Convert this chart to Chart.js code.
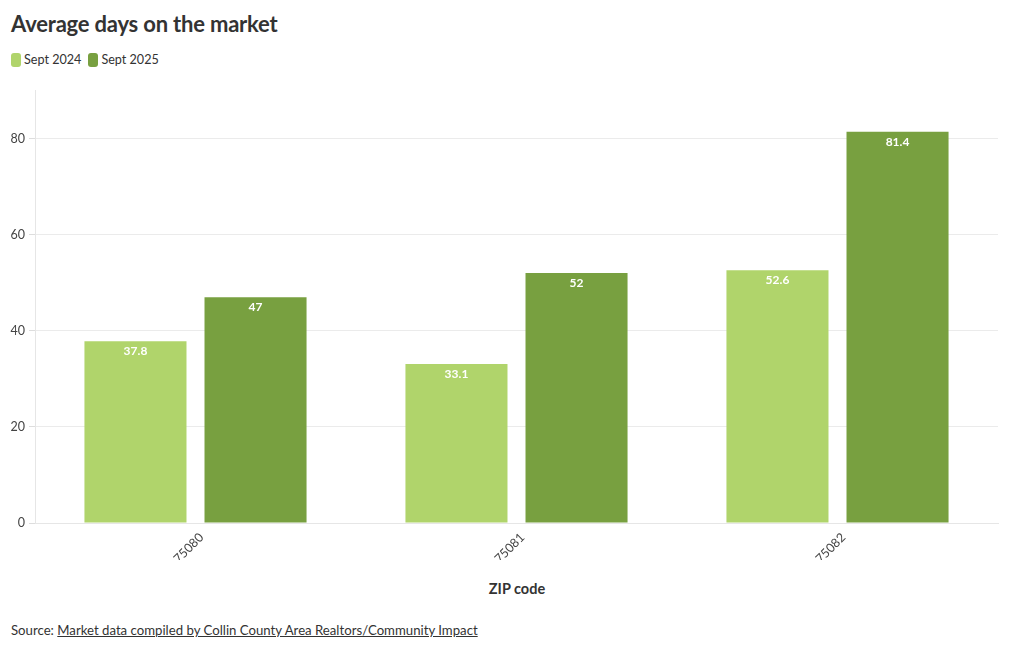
<!DOCTYPE html>
<html>
<head>
<meta charset="utf-8">
<script src="https://cdn.jsdelivr.net/npm/chart.js@4"></script>
<style>
  body { margin: 0; background: #fff; font-family: Lato, "Noto Sans", sans-serif; color: #333; }
  #wrap { position: relative; width: 1020px; height: 650px; }
  h1 { position: absolute; left: 11px; top: 10px; margin: 0; font-size: 22px; font-weight: 700; color: #333; letter-spacing: -0.2px; }
  #legend { position: absolute; left: 11px; top: 52px; font-size: 12.6px; display: flex; gap: 7px; }
  #legend span { display: inline-flex; align-items: center; }
  #legend i { display: inline-block; width: 10px; height: 14px; border-radius: 3px; margin-right: 3px; }
  #xtitle { position: absolute; left: 0; width: 1034px; top: 580px; text-align: center; font-size: 14.5px; font-weight: 700; }
  #source { position: absolute; left: 11px; top: 622px; font-size: 13.2px; }
  #source u { text-decoration: underline; }
  #box { position: absolute; left: 0; top: 79px; width: 1000px; height: 481px; }
</style>
</head>
<body>
<div id="wrap">
  <h1>Average days on the market</h1>
  <div id="legend">
    <span><i style="background:#b0d46b"></i>Sept 2024</span>
    <span><i style="background:#78a040"></i>Sept 2025</span>
  </div>
  <div id="box"><canvas id="chart"></canvas></div>
  <div id="xtitle">ZIP code</div>
  <div id="source">Source: <u>Market data compiled by Collin County Area Realtors/Community Impact</u></div>
</div>
<script>
const zipCodes = ['75080', '75081', '75082'];
const sept2024 = [37.8, 33.1, 52.6];
const sept2025 = [47, 52, 81.4];
const yTicks = [0, 20, 40, 60, 80];

// white value labels inside the top of each bar
const barLabels = {
  id: 'barLabels',
  afterDatasetsDraw(chart) {
    const ctx = chart.ctx;
    ctx.save();
    ctx.font = 'bold 12px Lato, "Noto Sans", sans-serif';
    ctx.fillStyle = '#fff';
    ctx.textAlign = 'center';
    ctx.textBaseline = 'middle';
    chart.data.datasets.forEach((ds, i) => {
      chart.getDatasetMeta(i).data.forEach((bar, j) => {
        ctx.fillText(String(ds.data[j]), bar.x, bar.y + 10);
      });
    });
    ctx.restore();
  }
};

new Chart(document.getElementById('chart'), {
  type: 'bar',
  data: {
    labels: zipCodes,
    datasets: [
      { label: 'Sept 2024', data: sept2024, backgroundColor: '#b0d46b' },
      { label: 'Sept 2025', data: sept2025, backgroundColor: '#78a040' },
    ],
  },
  options: {
    responsive: true,
    maintainAspectRatio: false,
    animation: false,
    categoryPercentage: 0.748,
    barPercentage: 0.85,
    layout: { padding: { top: 6, right: 2 } },
    plugins: { legend: { display: false }, tooltip: { enabled: false } },
    scales: {
      x: {
        grid: { display: false, drawTicks: true, tickLength: 5, tickColor: '#ddd' },
        border: { color: '#e6e6e6' },
        ticks: { color: '#444', font: { size: 12.5, family: 'Lato' }, maxRotation: 45, minRotation: 45, padding: 2, labelOffset: 6 },
        afterFit: s => { s.height = 37; },
      },
      y: {
        min: 0,
        max: 90,
        afterBuildTicks: s => { s.ticks = yTicks.map(v => ({ value: v })); },
        grid: { color: '#ebebeb', tickLength: 6, tickColor: '#ddd' },
        border: { color: '#e6e6e6' },
        ticks: { color: '#444', font: { size: 12.5, family: 'Lato' }, padding: 4 },
        afterFit: s => { s.width = 35; },
      },
    },
  },
  plugins: [barLabels],
});
</script>
</body>
</html>
